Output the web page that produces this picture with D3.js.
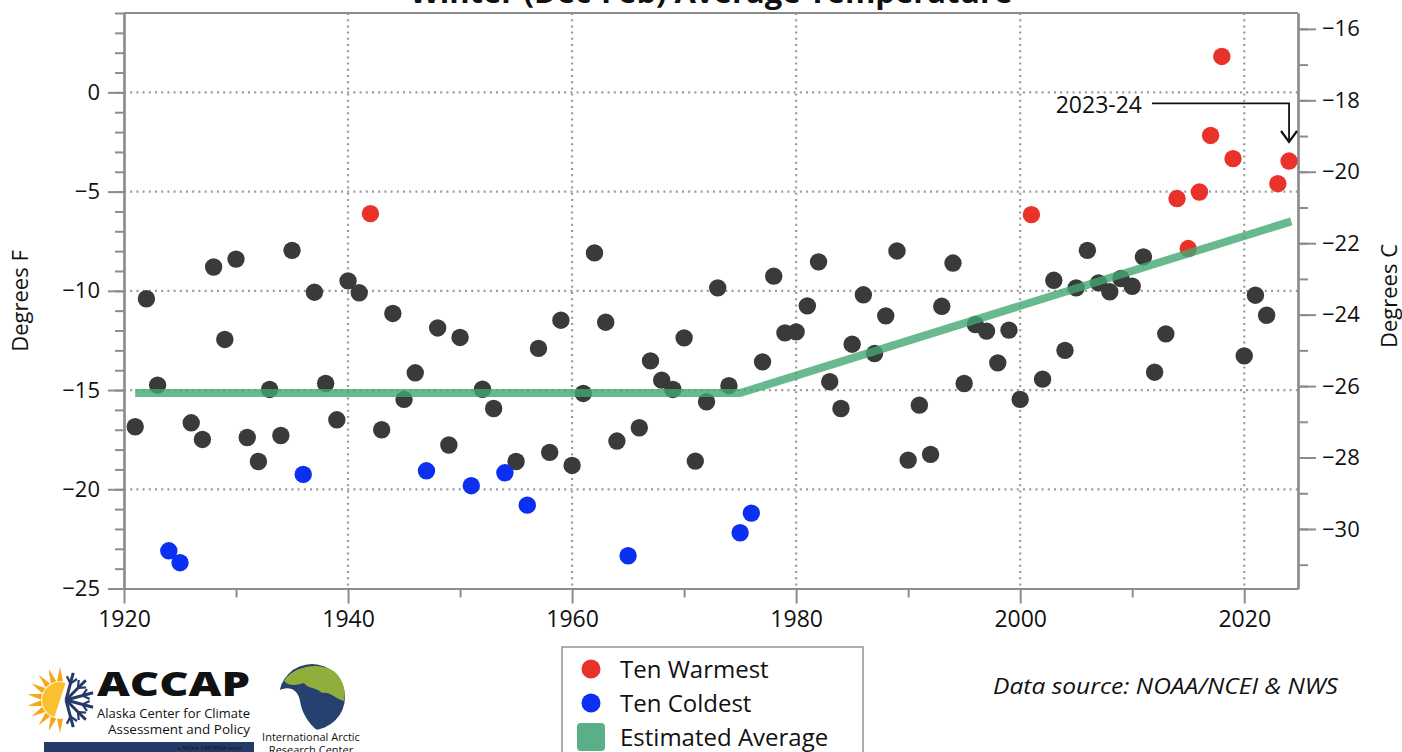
<!DOCTYPE html>
<html>
<head>
<meta charset="utf-8">
<script src="https://cdn.jsdelivr.net/npm/d3@7"></script>
<style>
  body { margin: 0; background: #fff; }
  svg { display: block; }
  text { font-family: "Open Sans", sans-serif; fill: #111; }
</style>
</head>
<body>
<svg id="chart" width="1402" height="752"></svg>
<script>
// Winter (Dec-Feb) mean temperature, degrees F, winters ending 1921..2024
var years = d3.range(1921, 2025);
var tempF = [
  -16.85, -10.4, -14.75, -23.1, -23.7, -16.65, -17.49, -8.8, -12.45, -8.4,   // 1921-1930
  -17.39, -18.6, -14.97, -17.29, -7.96, -19.25, -10.07, -14.67, -16.5, -9.5,  // 1931-1940
  -10.1, -6.11, -17.0, -11.14, -15.47, -14.13, -19.07, -11.87, -17.77, -12.35,// 1941-1950
  -19.82, -14.96, -15.93, -19.17, -18.6, -20.8, -12.9, -18.14, -11.48, -18.8, // 1951-1960
  -15.17, -8.09, -11.58, -17.57, -23.35, -16.9, -13.53, -14.5, -14.97, -12.37,// 1961-1970
  -18.58, -15.59, -9.85, -14.78, -22.19, -21.2, -13.58, -9.26, -12.12, -12.07,// 1971-1980
  -10.76, -8.54, -14.58, -15.93, -12.69, -10.2, -13.16, -11.26, -7.99, -18.53,// 1981-1990
  -15.76, -18.24, -10.78, -8.6, -14.67, -11.7, -12.03, -13.63, -11.98, -15.47,// 1991-2000
  -6.16, -14.45, -9.47, -13.0, -9.85, -7.96, -9.6, -10.05, -9.38, -9.77,      // 2001-2010
  -8.29, -14.1, -12.17, -5.35, -7.87, -5.02, -2.17, 1.81, -3.34, -13.28,      // 2011-2020
  -10.22, -11.23, -4.6, -3.46                                                 // 2021-2024
];
var warmest = [1942, 2001, 2014, 2015, 2016, 2017, 2018, 2019, 2023, 2024];
var coldest = [1924, 1925, 1936, 1947, 1951, 1954, 1956, 1965, 1975, 1976];

// estimated average (flat, then linear rise)
var trendYears = [1921, 1975, 2024.2];
var trendF = [-15.15, -15.15, -6.5];

var xTicks = [1920, 1940, 1960, 1980, 2000, 2020];
var xMinor = [1930, 1950, 1970, 1990, 2010];
var xGrid = [1940, 1960, 1980, 2000, 2020];
var yTicksF = [0, -5, -10, -15, -20, -25];
var yGridF = [0, -5, -10, -15, -20];
var yTicksC = [-16, -18, -20, -22, -24, -26, -28, -30];

var svg = d3.select("#chart");

var x = d3.scaleLinear().domain([1920, 2024.8]).range([124, 1298]);
var y = d3.scaleLinear().domain([-25, 4]).range([588.5, 13]);
var f2c = function(f) { return (f - 32) * 5 / 9; };
var yC = d3.scaleLinear().domain([f2c(-25), f2c(4)]).range([588.5, 13]);

var axisColor = "#8c8c8c";

// grid
svg.append("g").selectAll("line").data(xGrid).enter().append("line")
    .attr("x1", function(d) { return x(d); }).attr("x2", function(d) { return x(d); })
    .attr("y1", y(4)).attr("y2", y(-25))
    .attr("stroke", "#9a9a9a").attr("stroke-width", 2.2)
    .attr("stroke-dasharray", "2,4.2");
svg.append("g").selectAll("line").data(yGridF).enter().append("line")
    .attr("x1", x(1920)).attr("x2", x(2024.8))
    .attr("y1", function(d) { return y(d); }).attr("y2", function(d) { return y(d); })
    .attr("stroke", "#9a9a9a").attr("stroke-width", 2.2)
    .attr("stroke-dasharray", "2,4.2");

// axes
function styleAxis(g, size) {
  g.selectAll(".domain").attr("stroke", axisColor).attr("stroke-width", 2.2);
  g.selectAll(".tick line").attr("stroke", axisColor).attr("stroke-width", 2);
  g.selectAll("text").style("font-size", size + "px").attr("fill", "#111");
}

svg.append("g").attr("transform", "translate(0," + y(-25) + ")")
    .call(d3.axisBottom(x).tickValues(xMinor).tickSize(9).tickSizeOuter(0).tickFormat(""))
    .call(styleAxis, 23);
svg.append("g").attr("transform", "translate(0," + y(-25) + ")")
    .call(d3.axisBottom(x).tickValues(xTicks).tickSize(15).tickSizeOuter(0).tickPadding(7).tickFormat(d3.format("d")))
    .call(styleAxis, 23);

svg.append("g").attr("transform", "translate(" + x(1920) + ",0)")
    .call(d3.axisLeft(y).tickValues(d3.range(-25, 5, 1)).tickSize(9).tickSizeOuter(0).tickFormat(""))
    .call(styleAxis, 22);
svg.append("g").attr("transform", "translate(" + x(1920) + ",0)")
    .call(d3.axisLeft(y).tickValues(yTicksF).tickSize(16).tickSizeOuter(0).tickPadding(8))
    .call(styleAxis, 22);

svg.append("g").attr("transform", "translate(" + x(2024.8) + ",0)")
    .call(d3.axisRight(yC).tickValues(d3.range(-31, -15, 1)).tickSize(10).tickSizeOuter(0).tickFormat(""))
    .call(styleAxis, 22);
svg.append("g").attr("transform", "translate(" + x(2024.8) + ",0)")
    .call(d3.axisRight(yC).tickValues(yTicksC).tickSize(18).tickSizeOuter(0).tickPadding(6))
    .call(styleAxis, 22);

// top frame line
svg.append("line")
    .attr("x1", x(1920)).attr("x2", x(2024.8))
    .attr("y1", y(4)).attr("y2", y(4))
    .attr("stroke", axisColor).attr("stroke-width", 2.2);

// points
var pts = years.map(function(yr, i) {
  var kind = warmest.indexOf(yr) >= 0 ? "warm" : (coldest.indexOf(yr) >= 0 ? "cold" : "other");
  return {year: yr, f: tempF[i], kind: kind};
});
var colors = {other: "#3a3a3a", warm: "#e8322a", cold: "#0b30f2"};
pts.sort(function(a, b) { return (a.kind === "other" ? 0 : 1) - (b.kind === "other" ? 0 : 1); });

svg.append("g").selectAll("circle").data(pts).enter().append("circle")
    .attr("cx", function(d) { return x(d.year); })
    .attr("cy", function(d) { return y(d.f); })
    .attr("r", 8.7)
    .attr("fill", function(d) { return colors[d.kind]; });

// estimated average line
var trend = trendYears.map(function(yr, i) { return [yr, trendF[i]]; });
svg.append("path")
    .datum(trend)
    .attr("d", d3.line().x(function(d) { return x(d[0]); }).y(function(d) { return y(d[1]); }))
    .attr("fill", "none")
    .attr("stroke", "#43a873")
    .attr("stroke-opacity", 0.8)
    .attr("stroke-width", 8);

// title (clipped at top like the source)
svg.append("text")
    .attr("x", (x(1920) + x(2024.8)) / 2).attr("y", 3)
    .attr("text-anchor", "middle")
    .style("font-size", "31px").style("font-weight", "bold")
    .text("Winter (Dec-Feb) Average Temperature");

// axis titles
svg.append("text")
    .attr("transform", "translate(28,301) rotate(-90)")
    .attr("text-anchor", "middle")
    .style("font-size", "22px")
    .text("Degrees F");
svg.append("text")
    .attr("transform", "translate(1397,296) rotate(-90)")
    .attr("text-anchor", "middle")
    .style("font-size", "22px")
    .text("Degrees C");

// 2023-24 annotation
var ax = x(2024), ay = y(-0.55), aEnd = y(-2.5);
svg.append("text")
    .attr("x", 1142).attr("y", 113)
    .attr("text-anchor", "end")
    .style("font-size", "23px")
    .text("2023-24");
svg.append("path")
    .attr("d", "M1152," + ay + "H" + ax + "V" + aEnd)
    .attr("fill", "none").attr("stroke", "#111").attr("stroke-width", 1.8);
svg.append("path")
    .attr("d", "M" + (ax - 8) + "," + (aEnd - 11) + "L" + ax + "," + aEnd + "L" + (ax + 8) + "," + (aEnd - 11))
    .attr("fill", "none").attr("stroke", "#111").attr("stroke-width", 2.2);

// data source
svg.append("text")
    .attr("x", 993).attr("y", 694)
    .attr("textLength", 345).attr("lengthAdjust", "spacingAndGlyphs")
    .style("font-size", "22.5px").style("font-style", "italic")
    .text("Data source: NOAA/NCEI & NWS");

// legend
var legend = svg.append("g");
legend.append("rect")
    .attr("x", 562).attr("y", 647).attr("width", 301).attr("height", 130)
    .attr("fill", "#fff").attr("stroke", "#9a9a9a").attr("stroke-width", 1.6);
var legendItems = [
  {label: "Ten Warmest", type: "dot", color: colors.warm},
  {label: "Ten Coldest", type: "dot", color: colors.cold},
  {label: "Estimated Average", type: "box", color: "#5aae88"}
];
legendItems.forEach(function(d, i) {
  var cy = 669 + i * 34;
  if (d.type === "dot") {
    legend.append("circle").attr("cx", 591).attr("cy", cy).attr("r", 9.5).attr("fill", d.color);
  } else {
    legend.append("rect").attr("x", 577).attr("y", cy - 14).attr("width", 28).attr("height", 28)
        .attr("rx", 4).attr("fill", d.color);
  }
  legend.append("text").attr("x", 620).attr("y", cy + 9)
      .style("font-size", "24px").attr("fill", "#1a1a1a").text(d.label);
});

// ACCAP logo (simplified)
var logo = svg.append("g");
var sunC = [60, 700];
var rays = d3.range(0, 10).map(function(i) { return Math.PI / 2 + i * Math.PI / 9; });
rays.forEach(function(a) {
  var r0 = 19, r1 = 33, w = 0.16;
  var p = [
    [sunC[0] + r0 * Math.cos(a - w), sunC[1] - r0 * Math.sin(a - w)],
    [sunC[0] + r1 * Math.cos(a), sunC[1] - r1 * Math.sin(a)],
    [sunC[0] + r0 * Math.cos(a + w), sunC[1] - r0 * Math.sin(a + w)]
  ];
  logo.append("path").attr("d", "M" + p.join("L") + "Z").attr("fill", "#f6a81c");
});
logo.append("path")
    .attr("d", d3.arc().innerRadius(0).outerRadius(18).startAngle(Math.PI * 1.1).endAngle(Math.PI * 2.1)())
    .attr("transform", "translate(" + sunC + ")")
    .attr("fill", "#fbc02d");
// snowflake arms
d3.range(0, 6).forEach(function(i) {
  var a = -Math.PI / 3 + i * Math.PI / 6 - Math.PI / 12;
  var ex = sunC[0] + 6 + 28 * Math.cos(a), ey = sunC[1] + 28 * Math.sin(a);
  logo.append("line").attr("x1", sunC[0] + 6).attr("y1", sunC[1]).attr("x2", ex).attr("y2", ey)
      .attr("stroke", "#233a6b").attr("stroke-width", 3);
  var mx = sunC[0] + 6 + 17 * Math.cos(a), my = sunC[1] + 17 * Math.sin(a);
  [-0.7, 0.7].forEach(function(o) {
    logo.append("line").attr("x1", mx).attr("y1", my)
        .attr("x2", mx + 8 * Math.cos(a + o)).attr("y2", my + 8 * Math.sin(a + o))
        .attr("stroke", "#233a6b").attr("stroke-width", 2.2);
  });
});
logo.append("text").attr("x", 97).attr("y", 696)
    .attr("textLength", 153).attr("lengthAdjust", "spacingAndGlyphs")
    .style("font-size", "34px").style("font-weight", "800").attr("fill", "#233a6b")
    .text("ACCAP");
logo.append("text").attr("x", 97).attr("y", 718)
    .attr("textLength", 153).attr("lengthAdjust", "spacingAndGlyphs")
    .style("font-size", "12.5px").attr("fill", "#6d7893")
    .text("Alaska Center for Climate");
logo.append("text").attr("x", 108).attr("y", 734)
    .attr("textLength", 142).attr("lengthAdjust", "spacingAndGlyphs")
    .style("font-size", "12.5px").attr("fill", "#6d7893")
    .text("Assessment and Policy");
logo.append("rect").attr("x", 44).attr("y", 742).attr("width", 210).attr("height", 12).attr("fill", "#233a6b");
logo.append("text").attr("x", 210).attr("y", 750).attr("text-anchor", "middle")
    .style("font-size", "6px").attr("fill", "#fff").text("a NOAA CAP/RISA team");

// IARC globe (simplified)
var globe = svg.append("g").attr("transform", "translate(312,697)");
globe.append("circle").attr("r", 33).attr("fill", "#264170");
globe.append("path")
    .attr("d", "M-28,-16 C-18,-32 10,-36 24,-24 C32,-16 34,-4 32,4 C24,2 18,-6 10,-4 C4,-10 -4,-8 -8,-14 C-16,-12 -22,-10 -28,-16 Z")
    .attr("fill", "#8fae3c");
globe.append("path")
    .attr("d", "M-34,-6 C-24,-12 -14,-8 -12,4 C-10,16 -4,26 6,34 L-34,34 Z")
    .attr("fill", "#fff");
svg.append("text").attr("x", 311).attr("y", 741).attr("text-anchor", "middle")
    .style("font-size", "11px").attr("fill", "#264170").text("International Arctic");
svg.append("text").attr("x", 311).attr("y", 754).attr("text-anchor", "middle")
    .style("font-size", "11px").attr("fill", "#264170").text("Research Center");
</script>
</body>
</html>
